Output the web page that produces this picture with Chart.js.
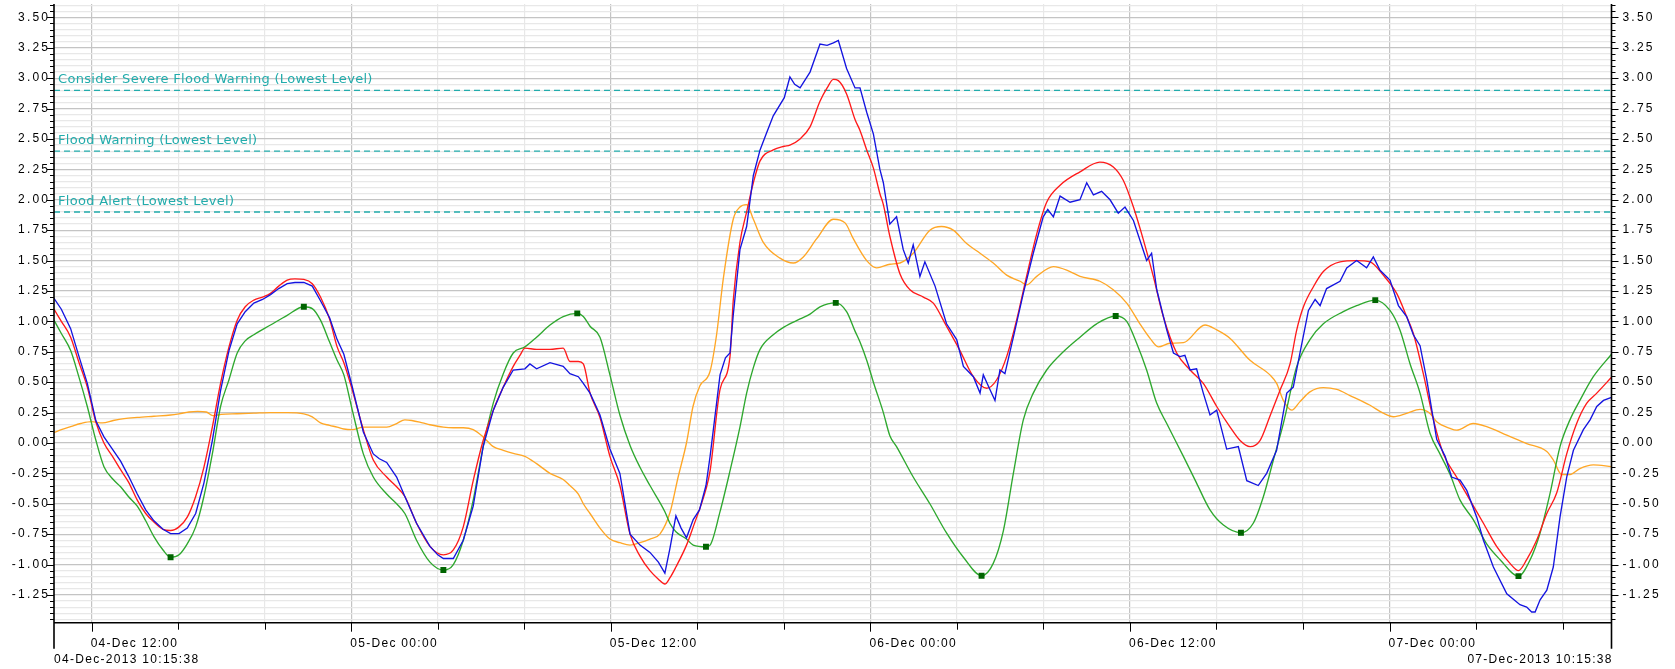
<!DOCTYPE html>
<html>
<head>
<meta charset="utf-8">
<title>River level forecast</title>
<script src="https://cdn.jsdelivr.net/npm/chart.js@4.4.1/dist/chart.umd.min.js"></script>
<style>
  html, body { margin: 0; padding: 0; background: #ffffff; }
  #wrap { width: 1675px; height: 669px; }
  canvas { display: block; }
</style>
</head>
<body>
<div id="wrap"><canvas id="chart" width="1675" height="669"></canvas></div>
<script>
// Time is expressed in hours since 04-Dec-2013 00:00.
const rangeStartLabel = '04-Dec-2013 10:15:38';
const rangeEndLabel = '07-Dec-2013 10:15:38';
const rangeStart = 10 + 15 / 60 + 38 / 3600;
const rangeEnd = rangeStart + 72;

// Labelled ticks on the time axis (every 12 h); unlabelled ticks every 4 h in between.
const majorTickHours = [12, 24, 36, 48, 60, 72];
const majorTickLabels = ['04-Dec 12:00', '05-Dec 00:00', '05-Dec 12:00', '06-Dec 00:00', '06-Dec 12:00', '07-Dec 00:00'];
const minorTickStep = 4;

// Level thresholds (m)
const thresholdNames = ['Consider Severe Flood Warning (Lowest Level)', 'Flood Warning (Lowest Level)', 'Flood Alert (Lowest Level)'];
const thresholdLevels = [2.90, 2.40, 1.90];

// Observed level
const observedT = [10.26,10.6,11.03,11.4,11.8,12.2,12.57,13.0,13.34,13.7,14.11,14.5,14.88,15.3,15.65,16.04,16.42,16.81,17.19,17.58,17.96,18.35,18.73,19.1,19.5,19.9,20.27,20.65,21.04,21.4,21.81,22.2,22.58,23.0,23.35,23.66,24.05,24.56,25.02,25.3,25.64,26.1,26.48,27.02,27.64,28.0,28.26,28.72,29.18,29.64,30.1,30.57,31.03,31.49,32.03,32.26,32.57,33.19,33.8,34.11,34.5,34.73,35.04,35.5,35.96,36.42,36.89,37.35,37.81,38.2,38.5,38.73,39.01,39.25,39.5,39.81,40.1,40.4,40.59,41.05,41.3,41.51,41.66,41.97,42.28,42.59,42.9,43.2,43.51,44.02,44.28,44.5,44.75,45.21,45.67,46.0,46.29,46.52,46.9,47.29,47.52,47.83,48.14,48.44,48.6,48.9,49.21,49.52,49.75,49.98,50.29,50.52,50.99,51.52,51.99,52.3,52.76,53.07,53.22,53.5,53.76,53.99,54.22,54.61,55.07,55.53,55.99,56.2,56.46,56.77,57.23,57.69,58.0,58.31,58.69,59.08,59.46,59.77,60.16,60.77,61.0,61.24,61.7,62.01,62.31,62.54,62.78,63.08,63.39,63.7,64.01,64.47,65.01,65.4,65.93,66.32,66.78,67.25,67.55,67.86,68.25,68.56,68.79,69.09,69.71,70.02,70.48,70.94,71.25,71.56,72.02,72.41,72.79,73.1,73.41,73.72,74.18,74.57,74.87,75.26,75.57,76.03,76.34,76.8,77.42,78.03,78.34,78.57,78.73,78.96,79.27,79.57,79.88,80.19,80.5,80.96,81.27,81.58,81.89,82.26];
const observedV = [1.19,1.10,0.94,0.72,0.49,0.18,0.05,-0.06,-0.15,-0.27,-0.42,-0.55,-0.64,-0.71,-0.745,-0.745,-0.70,-0.58,-0.33,0.02,0.43,0.76,0.98,1.08,1.15,1.18,1.22,1.27,1.31,1.32,1.32,1.29,1.17,1.03,0.85,0.73,0.46,0.09,-0.09,-0.13,-0.16,-0.28,-0.44,-0.66,-0.85,-0.92,-0.95,-0.95,-0.80,-0.52,-0.03,0.27,0.46,0.60,0.61,0.65,0.61,0.66,0.63,0.57,0.545,0.49,0.41,0.23,-0.05,-0.25,-0.75,-0.84,-0.90,-0.98,-1.07,-0.87,-0.60,-0.70,-0.78,-0.63,-0.55,-0.35,-0.11,0.56,0.70,0.74,1.05,1.59,1.78,2.20,2.41,2.55,2.69,2.84,3.01,2.95,2.92,3.05,3.28,3.27,3.29,3.31,3.08,2.92,2.92,2.72,2.54,2.25,2.14,1.80,1.86,1.59,1.48,1.63,1.37,1.49,1.29,0.98,0.85,0.63,0.545,0.41,0.56,0.45,0.35,0.60,0.57,0.87,1.23,1.56,1.86,1.92,1.86,2.03,1.98,2.00,2.14,2.04,2.07,2.00,1.89,1.94,1.83,1.50,1.56,1.26,0.93,0.74,0.71,0.72,0.60,0.61,0.41,0.23,0.27,-0.05,-0.03,-0.31,-0.35,-0.25,-0.06,0.41,0.46,0.74,1.09,1.18,1.13,1.27,1.33,1.44,1.50,1.44,1.53,1.42,1.34,1.13,1.04,0.89,0.80,0.52,0.03,-0.11,-0.28,-0.305,-0.39,-0.61,-0.80,-1.02,-1.24,-1.33,-1.35,-1.39,-1.39,-1.29,-1.21,-1.02,-0.61,-0.28,-0.06,0.11,0.19,0.30,0.35,0.375];

// Forecast level
const forecastT = [10.26,10.6,11.03,11.4,11.8,12.2,12.57,13.0,13.34,13.7,14.11,14.5,14.88,15.3,15.65,16.04,16.42,16.81,17.19,17.58,17.96,18.35,18.73,19.1,19.5,19.9,20.27,20.65,21.04,21.4,21.81,22.2,22.58,23.0,23.35,23.66,24.05,24.56,25.02,25.64,26.1,26.48,27.02,27.64,28.26,28.72,29.18,29.64,30.1,30.57,31.03,31.49,31.8,32.03,32.57,33.19,33.8,34.11,34.5,34.73,35.04,35.5,35.96,36.42,36.89,37.35,37.81,38.2,38.5,38.73,39.01,39.5,39.81,40.4,40.59,41.05,41.51,41.66,41.97,42.28,42.59,42.9,43.51,44.02,44.28,44.75,45.21,45.67,46.0,46.29,46.52,46.9,47.29,47.52,47.83,48.14,48.44,48.6,48.9,49.37,49.83,50.45,50.91,51.52,52.14,52.76,53.37,53.84,54.3,54.76,55.22,55.69,56.15,56.77,57.69,58.61,59.23,59.69,60.16,60.62,61.08,61.54,62.16,62.78,63.39,64.01,64.63,65.09,65.55,66.01,66.47,66.94,67.4,67.71,68.02,68.48,68.94,69.71,70.48,71.1,71.71,72.33,72.79,73.1,73.56,74.03,74.49,75.1,75.72,76.34,76.95,77.57,77.96,78.34,78.8,79.27,79.73,80.19,80.65,81.11,81.58,82.26];
const forecastV = [1.10,1.0,0.87,0.67,0.46,0.17,0.0,-0.12,-0.22,-0.32,-0.47,-0.58,-0.65,-0.71,-0.72,-0.69,-0.61,-0.44,-0.20,0.13,0.49,0.79,1.01,1.12,1.175,1.20,1.23,1.29,1.34,1.35,1.345,1.31,1.20,1.02,0.79,0.66,0.435,0.11,-0.14,-0.28,-0.36,-0.44,-0.66,-0.85,-0.92,-0.88,-0.69,-0.31,0.02,0.27,0.46,0.63,0.72,0.78,0.77,0.77,0.78,0.67,0.67,0.65,0.41,0.21,-0.11,-0.35,-0.75,-0.93,-1.05,-1.12,-1.16,-1.11,-1.02,-0.84,-0.69,-0.38,-0.23,0.44,0.71,1.17,1.65,1.90,2.14,2.32,2.41,2.44,2.45,2.50,2.60,2.81,2.92,2.99,2.98,2.87,2.66,2.57,2.41,2.26,2.05,1.96,1.70,1.39,1.26,1.20,1.15,0.96,0.76,0.545,0.45,0.52,0.71,1.01,1.37,1.72,1.98,2.12,2.23,2.31,2.27,2.16,1.94,1.67,1.37,1.04,0.74,0.60,0.49,0.30,0.13,0.02,-0.03,0.02,0.22,0.435,0.65,0.93,1.12,1.285,1.41,1.49,1.50,1.49,1.38,1.23,1.04,0.90,0.57,0.19,-0.09,-0.28,-0.47,-0.66,-0.85,-0.99,-1.05,-0.96,-0.80,-0.58,-0.41,-0.09,0.16,0.325,0.41,0.54];

// Astronomical tide
const tideT = [10.26,10.6,11.03,11.4,11.8,12.2,12.57,13.0,13.34,13.7,14.11,14.5,14.88,15.3,15.65,16.04,16.42,16.81,17.19,17.58,17.96,18.35,18.73,19.1,19.5,20.27,21.04,21.81,22.2,22.58,23.0,23.35,23.66,24.05,24.56,25.02,25.64,26.1,26.48,27.02,27.64,28.26,28.72,29.18,29.64,30.1,30.57,31.03,31.49,32.03,32.57,33.19,33.8,34.45,34.73,35.04,35.5,35.96,36.42,36.89,37.35,37.81,38.5,38.73,39.01,39.5,39.81,40.4,40.59,41.05,41.51,41.97,42.28,42.59,42.9,43.51,44.02,44.75,45.21,45.67,46.4,46.9,47.29,47.52,47.83,48.14,48.6,48.9,49.21,49.98,50.75,51.52,52.3,53.14,53.68,54.15,54.61,55.07,55.53,56.15,56.92,57.69,58.46,59.34,59.85,60.31,60.77,61.23,61.7,62.47,63.08,63.7,64.32,65.13,65.7,66.17,66.63,67.09,67.71,68.32,68.94,69.86,70.48,71.34,72.02,72.48,72.95,73.41,73.87,74.33,74.8,75.26,75.87,76.49,77.11,77.96,78.5,78.96,79.42,79.88,80.34,80.8,81.42,82.26];
const tideV = [1.01,0.90,0.76,0.55,0.30,0.02,-0.195,-0.30,-0.36,-0.44,-0.52,-0.64,-0.77,-0.88,-0.94,-0.92,-0.83,-0.69,-0.44,-0.09,0.30,0.52,0.74,0.84,0.89,0.97,1.05,1.12,1.105,1.01,0.83,0.68,0.56,0.27,-0.09,-0.28,-0.42,-0.50,-0.58,-0.80,-0.98,-1.045,-1.00,-0.80,-0.47,-0.03,0.33,0.57,0.74,0.79,0.87,0.97,1.04,1.066,1.04,0.96,0.87,0.56,0.23,-0.02,-0.20,-0.35,-0.565,-0.66,-0.73,-0.79,-0.84,-0.854,-0.84,-0.565,-0.23,0.13,0.41,0.62,0.77,0.89,0.955,1.02,1.06,1.12,1.152,1.08,0.92,0.83,0.68,0.50,0.25,0.06,-0.03,-0.28,-0.50,-0.74,-0.94,-1.092,-0.99,-0.72,-0.25,0.19,0.41,0.60,0.75,0.87,0.98,1.044,1.00,0.82,0.60,0.33,0.16,-0.11,-0.33,-0.55,-0.675,-0.738,-0.66,-0.44,-0.14,0.16,0.63,0.85,0.98,1.08,1.13,1.175,1.09,0.93,0.65,0.41,0.08,-0.09,-0.26,-0.47,-0.63,-0.83,-0.96,-1.095,-0.96,-0.74,-0.415,-0.03,0.19,0.35,0.545,0.73];
// High and low water times (marked on the tide curve)
const tideTurningT = [15.65, 21.81, 28.26, 34.45, 40.4, 46.4, 53.14, 59.34, 65.13, 71.34, 77.96];

// Surge residual
const surgeT = [10.26,10.6,11.03,11.5,12.0,12.5,13.0,13.5,14.11,14.88,15.65,16.04,16.5,16.9,17.3,17.6,18.0,18.73,19.5,20.27,21.04,21.81,22.2,22.58,23.0,23.35,23.66,24.05,24.56,25.02,25.64,26.1,26.48,26.8,27.3,27.64,28.26,28.72,29.18,29.64,30.1,30.57,31.03,31.49,32.03,32.57,33.19,33.8,34.11,34.5,34.73,35.04,35.5,35.96,36.42,36.89,37.35,37.81,38.27,38.74,39.1,39.51,39.8,40.12,40.59,40.89,41.2,41.66,41.97,42.28,42.59,43.05,43.82,44.44,44.9,45.52,46.29,46.83,47.21,47.83,48.29,48.91,49.37,49.98,50.75,51.29,51.83,52.45,53.07,53.68,54.3,54.92,55.22,55.69,56.46,57.23,57.69,58.61,59.23,59.85,60.46,60.93,61.31,61.85,62.47,63.47,64.01,64.63,65.55,66.47,66.78,67.09,67.48,67.86,68.32,68.94,69.56,70.17,71.1,71.71,72.18,72.79,73.41,73.87,74.18,74.8,75.1,75.87,76.49,77.42,78.34,79.27,79.57,79.96,80.34,80.8,81.42,82.26];
const surgeV = [0.085,0.11,0.135,0.16,0.175,0.165,0.185,0.20,0.21,0.22,0.23,0.24,0.255,0.26,0.255,0.225,0.235,0.24,0.245,0.25,0.25,0.24,0.215,0.165,0.145,0.13,0.115,0.11,0.13,0.13,0.13,0.16,0.19,0.185,0.165,0.15,0.13,0.125,0.125,0.11,0.05,-0.03,-0.06,-0.085,-0.11,-0.17,-0.25,-0.30,-0.35,-0.42,-0.50,-0.58,-0.70,-0.79,-0.82,-0.84,-0.82,-0.79,-0.75,-0.57,-0.29,0.01,0.30,0.47,0.59,0.89,1.35,1.84,1.94,1.96,1.84,1.65,1.52,1.48,1.53,1.68,1.84,1.81,1.68,1.50,1.44,1.47,1.48,1.56,1.75,1.78,1.75,1.64,1.56,1.48,1.38,1.33,1.30,1.37,1.45,1.41,1.37,1.33,1.26,1.15,0.98,0.86,0.79,0.82,0.825,0.97,0.93,0.86,0.68,0.56,0.49,0.35,0.27,0.34,0.42,0.455,0.44,0.39,0.31,0.245,0.216,0.243,0.276,0.243,0.175,0.12,0.106,0.16,0.134,0.065,-0.005,-0.07,-0.14,-0.26,-0.26,-0.21,-0.18,-0.195];

const toPoints = (ts, vs) => ts.map((t, i) => ({ x: t, y: vs[i] }));
const isMultiple = (v, step) => Math.abs(v / step - Math.round(v / step)) < 1e-6;

const yMin = -1.478, yMax = 3.61;
const yMajorStep = 0.25, yMinorStep = 0.05;

function yTicks() {
  const out = [];
  for (let k = Math.ceil(yMin / yMinorStep); k * yMinorStep <= yMax + 1e-9; k++) {
    out.push({ value: Math.round(k * yMinorStep * 100) / 100 });
  }
  return out;
}
function xTicks() {
  const out = [];
  for (let h = Math.ceil(rangeStart / minorTickStep) * minorTickStep; h <= rangeEnd; h += minorTickStep) out.push({ value: h });
  return out;
}

const tealColor = '#22acac';
const axisFont = '12px "Liberation Sans", Arial, sans-serif';

const thresholdSets = thresholdLevels.map((lvl, i) => ({
  label: thresholdNames[i],
  data: [{ x: rangeStart, y: lvl }, { x: rangeEnd, y: lvl }],
  borderColor: tealColor, borderWidth: 1.4, borderDash: [6, 4],
  pointRadius: 0, fill: false, tension: 0
}));

// Text with extra tracking; right-aligned text drops the trailing gap.
function spacedText(ctx, text, x, y, align, spacing) {
  ctx.letterSpacing = spacing + 'px';
  ctx.textAlign = align;
  ctx.fillText(text, align === 'right' ? x + spacing : x, y);
  ctx.letterSpacing = '0px';
}

// Axis furniture: tick marks, axis lines, tick labels, range labels and threshold captions.
const furniture = {
  id: 'furniture',
  afterDatasetsDraw(chart) {
    const { ctx, chartArea: a, scales } = chart;
    const ys = scales.y, xs = scales.x;
    ctx.save();
    ctx.strokeStyle = '#000';
    ctx.lineWidth = 1;
    ctx.beginPath();
    ys.ticks.forEach(t => {
      const p = Math.round(ys.getPixelForValue(t.value)) + 0.5;
      const len = isMultiple(t.value, yMajorStep) ? 7 : 4;
      ctx.moveTo(a.left - len, p); ctx.lineTo(a.left, p);
      ctx.moveTo(a.right, p); ctx.lineTo(a.right + len, p);
    });
    xs.ticks.forEach(t => {
      const p = Math.round(xs.getPixelForValue(t.value)) + 0.5;
      const len = isMultiple(t.value, 12) ? 9 : 7;
      ctx.moveTo(p, a.bottom); ctx.lineTo(p, a.bottom + len);
    });
    ctx.stroke();

    ctx.lineWidth = 1.6;
    ctx.beginPath();
    ctx.moveTo(a.left, a.top); ctx.lineTo(a.left, a.bottom + 26);
    ctx.moveTo(a.right, a.top); ctx.lineTo(a.right, a.bottom + 26);
    ctx.moveTo(a.left, a.bottom); ctx.lineTo(a.right, a.bottom);
    ctx.stroke();

    ctx.fillStyle = '#000';
    ctx.font = axisFont;
    ctx.textBaseline = 'middle';
    ys.ticks.forEach(t => {
      if (!isMultiple(t.value, yMajorStep)) return;
      const p = ys.getPixelForValue(t.value);
      const s = t.value.toFixed(2);
      spacedText(ctx, s, a.left - 6, p, 'right', 2.2);
      spacedText(ctx, s, a.right + 11, p, 'left', 2.2);
    });
    majorTickHours.forEach((h, i) => {
      spacedText(ctx, majorTickLabels[i], xs.getPixelForValue(h) - 1, a.bottom + 21, 'left', 1.3);
    });
    spacedText(ctx, rangeStartLabel, a.left, a.bottom + 37, 'left', 1.3);
    spacedText(ctx, rangeEndLabel, a.right, a.bottom + 37, 'right', 1.3);

    ctx.fillStyle = tealColor;
    ctx.font = '13px "DejaVu Sans", Verdana, sans-serif';
    ctx.textBaseline = 'alphabetic';
    thresholdLevels.forEach((lvl, i) => {
      spacedText(ctx, thresholdNames[i], a.left + 4, ys.getPixelForValue(lvl) - 7, 'left', 0.3);
    });
    ctx.restore();
  }
};

const lineBase = { pointRadius: 0, fill: false, borderWidth: 1.35 };

new Chart(document.getElementById('chart'), {
  type: 'line',
  data: {
    datasets: [
      Object.assign({ label: 'Observed', data: toPoints(observedT, observedV), borderColor: '#1414e0', tension: 0 }, lineBase),
      Object.assign({ label: 'Forecast', data: toPoints(forecastT, forecastV), borderColor: '#ff1a1a', cubicInterpolationMode: 'monotone' }, lineBase),
      Object.assign({}, lineBase, {
        label: 'Tide', data: toPoints(tideT, tideV), borderColor: '#2ea82e', cubicInterpolationMode: 'monotone',
        pointStyle: 'rect',
        pointRadius: c => (c.raw && tideTurningT.includes(c.raw.x)) ? 4.2 : 0,
        pointBackgroundColor: '#006400', pointBorderColor: '#006400', pointBorderWidth: 0
      }),
      Object.assign({ label: 'Surge', data: toPoints(surgeT, surgeV), borderColor: '#ffa726', cubicInterpolationMode: 'monotone' }, lineBase),
      ...thresholdSets
    ]
  },
  options: {
    responsive: false,
    animation: false,
    devicePixelRatio: 1,
    layout: { padding: { top: 4, left: 54, right: 63.5, bottom: 46.3 } },
    plugins: { legend: { display: false }, tooltip: { enabled: false } },
    scales: {
      x: {
        type: 'linear', min: rangeStart, max: rangeEnd,
        afterBuildTicks: s => { s.ticks = xTicks(); },
        afterFit: s => { s.height = 0; s.paddingLeft = 0; s.paddingRight = 0; },
        border: { display: false },
        grid: {
          drawTicks: false,
          color: c => (c.tick && isMultiple(c.tick.value, 12)) ? '#c4c4c4' : '#e8e8e8',
          lineWidth: 1.2
        },
        ticks: { display: false }
      },
      y: {
        position: 'left', min: yMin, max: yMax,
        afterBuildTicks: s => { s.ticks = yTicks(); },
        afterFit: s => { s.width = 0; s.paddingTop = 0; s.paddingBottom = 0; },
        border: { display: false },
        grid: {
          drawTicks: false,
          color: c => (c.tick && isMultiple(c.tick.value, yMajorStep)) ? '#c4c4c4' : '#e8e8e8',
          lineWidth: 1.2
        },
        ticks: { display: false }
      }
    }
  },
  plugins: [furniture]
});
</script>
</body>
</html>
